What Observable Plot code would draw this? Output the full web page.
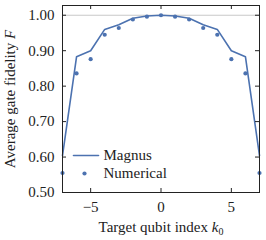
<!DOCTYPE html>
<html><head><meta charset="utf-8">
<script src="https://cdn.jsdelivr.net/npm/d3@7"></script>
<script src="https://cdn.jsdelivr.net/npm/@observablehq/plot@0.6"></script>
<style>
body{margin:0;background:#fff}
svg{font-family:"Liberation Serif","DejaVu Serif",serif}
</style>
</head><body><div id="chart"></div>
<script>
const k = [-7,-6,-5,-4,-3,-2,-1,0,1,2,3,4,5,6,7];
const magnus = [0.604,0.883,0.900,0.960,0.973,0.9915,0.998,1.000,0.998,0.9915,0.973,0.960,0.900,0.883,0.604];
const numerical = [0.555,0.836,0.876,0.945,0.964,0.988,0.996,1.000,0.996,0.988,0.964,0.945,0.876,0.836,0.555];
const xTicks = [-5,0,5];
const yTicks = [0.5,0.6,0.7,0.8,0.9,1.0];
const refLine = [1.0];
const seriesNames = ["Magnus","Numerical"];
const xLabelBase = "Target qubit index ";
const yLabelBase = "Average gate fidelity ";

const W = 266, H = 240, ml = 62, mr = 7, mt = 5, mb = 48;
const pw = W - ml - mr, ph = H - mt - mb;
const color = "#4c72b0";
const tl = 4;

const magnusData = k.map((x,i)=>({x, y: magnus[i]}));
const numData = k.map((x,i)=>({x, y: numerical[i]}));

const xLabelText = xLabelBase + "k0";
const yLabelText = yLabelBase + "F";

const chart = Plot.plot({
  width: W, height: H,
  marginLeft: ml, marginRight: mr, marginTop: mt, marginBottom: mb,
  style: {fontFamily: '"Liberation Serif", serif', fontSize: "15px", color: "#222", background: "#fff"},
  x: {domain: [-7, 7]},
  y: {domain: [0.5, 1.0275]},
  marks: [
    Plot.ruleY(refLine, {y: d=>d, stroke: "#c8c8c8", strokeWidth: 1.2}),
    Plot.line(magnusData, {x: "x", y: "y", stroke: color, strokeWidth: 1.6}),
    Plot.dot(numData, {x: "x", y: "y", fill: color, r: 2.1}),
    Plot.frame({stroke: "#222", strokeWidth: 1}),
    Plot.tickX(xTicks, {x: d=>d, insetTop: ph - tl, stroke: "#222"}),
    Plot.tickX(xTicks, {x: d=>d, insetBottom: ph - tl, stroke: "#222"}),
    Plot.tickY(yTicks, {y: d=>d, insetRight: pw - tl, stroke: "#222"}),
    Plot.tickY(yTicks, {y: d=>d, insetLeft: pw - tl, stroke: "#222"}),
    Plot.axisX(xTicks, {tickSize: 0, tickPadding: 9, fontSize: 15, label: null}),
    Plot.axisY(yTicks, {tickSize: 0, tickPadding: 8, fontSize: 15, label: null, tickFormat: d3.format(".2f")}),
    Plot.text([xLabelText], {text: d=>d, frameAnchor: "bottom", dy: 35, lineAnchor: "middle", textAnchor: "middle", fontSize: 15, fill: "#222"}),
    Plot.text([yLabelText], {text: d=>d, frameAnchor: "left", dx: -52, rotate: -90, textAnchor: "middle", lineAnchor: "middle", fontSize: 15, fill: "#222"}),
    Plot.vector([seriesNames[0]], {frameAnchor: "bottom-left", dx: 11, dy: -37, length: 25, rotate: 90, anchor: "start",
      stroke: color, strokeWidth: 1.6,
      shape: {draw(ctx, l){ ctx.moveTo(0,0); ctx.lineTo(0,-l); }}}),
    Plot.dot([seriesNames[1]], {frameAnchor: "bottom-left", dx: 22, dy: -19, r: 2.1, fill: color}),
    Plot.text([seriesNames[0]], {text: d=>d, frameAnchor: "bottom-left", dx: 41, dy: -37, textAnchor: "start", lineAnchor: "middle", fontSize: 15, fill: "#222"}),
    Plot.text([seriesNames[1]], {text: d=>d, frameAnchor: "bottom-left", dx: 41, dy: -19, textAnchor: "start", lineAnchor: "middle", fontSize: 15, fill: "#222"})
  ]
});
document.getElementById("chart").appendChild(chart);

function richify(full, base, italic, sub){
  d3.select(chart).selectAll("text").filter(function(){return this.textContent === full;}).each(function(){
    const t = d3.select(this);
    t.text(null);
    t.append("tspan").text(base);
    t.append("tspan").attr("font-style","italic").text(italic);
    if (sub) t.append("tspan").attr("font-size","10px").attr("dy","0.3em").text(sub);
  });
}
richify(xLabelText, xLabelBase, "k", "0");
richify(yLabelText, yLabelBase, "F", null);
</script>
</body></html>
